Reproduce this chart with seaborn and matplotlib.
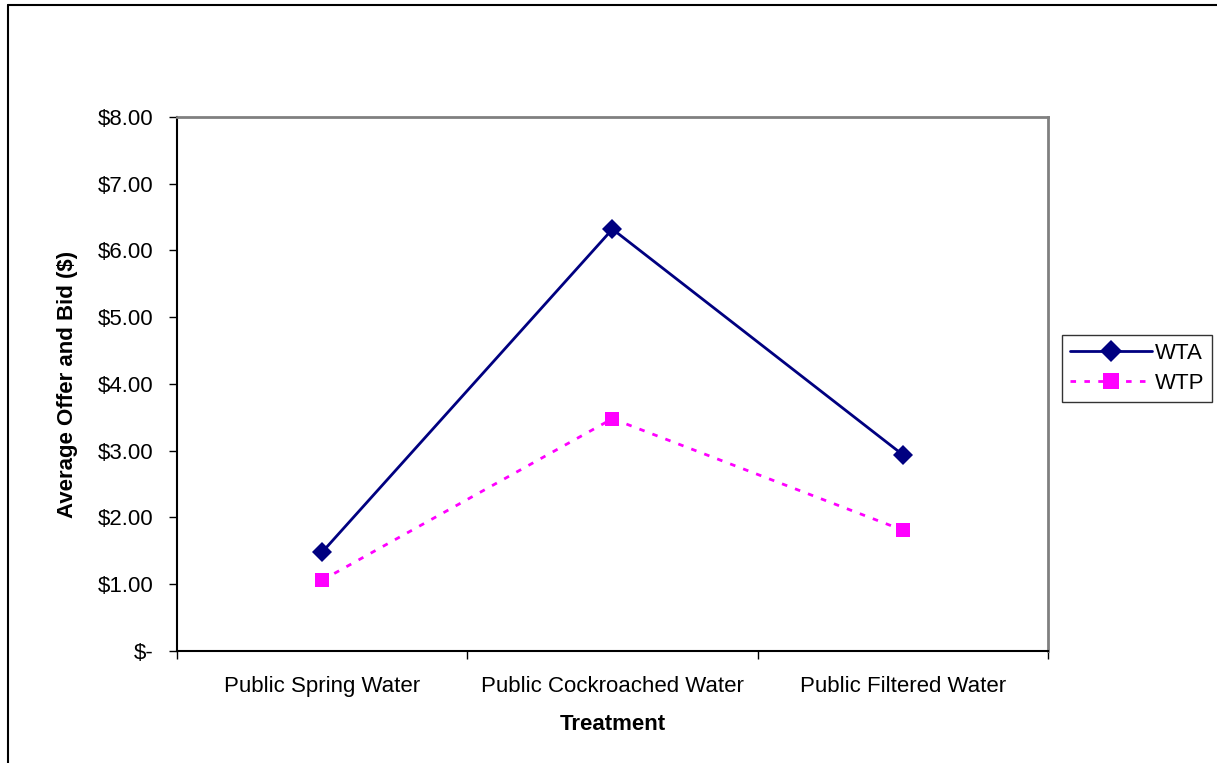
import pandas as pd
import seaborn as sns
import matplotlib.pyplot as plt
from matplotlib.lines import Line2D
from matplotlib.ticker import FixedLocator, FuncFormatter

treatments = ["Public Spring Water", "Public Cockroached Water", "Public Filtered Water"]
wta = [1.48, 6.32, 2.94]
wtp = [1.06, 3.48, 1.81]

df = pd.DataFrame({
    "Treatment": treatments * 2,
    "value": wta + wtp,
    "series": ["WTA"] * 3 + ["WTP"] * 3,
})

sns.set_style("white")
plt.rcParams['font.family'] = ['Liberation Sans', 'DejaVu Sans']
plt.rcParams['text.color'] = 'black'
plt.rcParams['xtick.color'] = 'black'
plt.rcParams['ytick.color'] = 'black'
plt.rcParams['axes.labelcolor'] = 'black'

fs = 16
fig = plt.figure(figsize=(12.17, 7.63), dpi=100)
ax = fig.add_axes([0.1454, 0.1468, 0.7157, 0.6999])

sns.lineplot(data=df, x="Treatment", y="value", hue="series", style="series",
             palette={"WTA": "#000080", "WTP": "#FF00FF"},
             dashes={"WTA": "", "WTP": (2, 3)},
             markers={"WTA": "D", "WTP": "s"},
             markersize=10, linewidth=2, markeredgewidth=0, ax=ax, legend=False)

ax.set_xlim(-0.5, 2.5)
ax.set_ylim(0, 8)
ax.xaxis.set_major_locator(FixedLocator([-0.5, 0.5, 1.5, 2.5]))
ax.xaxis.set_minor_locator(FixedLocator([0, 1, 2]))
ax.set_xticklabels([])
ax.set_xticklabels(treatments, minor=True)
ax.tick_params(axis="x", which="major", direction="out", length=6, width=1, bottom=True)
ax.tick_params(axis="x", which="minor", length=0, pad=18, labelsize=fs)
ax.set_yticks(range(0, 9))
ax.yaxis.set_major_formatter(FuncFormatter(lambda v, p: "$-" if v == 0 else f"${v:.2f}"))
ax.tick_params(axis="y", direction="out", length=6, width=1, left=True, pad=11, labelsize=fs)

for s in ["left", "bottom"]:
    ax.spines[s].set_color("black")
    ax.spines[s].set_linewidth(1.5)
for s in ["top", "right"]:
    ax.spines[s].set_color("#808080")
    ax.spines[s].set_linewidth(2)

ax.set_xlabel("Treatment", fontsize=fs, fontweight="bold", labelpad=12)
ax.set_ylabel("Average Offer and Bid ($)", fontsize=fs, fontweight="bold", labelpad=14)

handles = [
    Line2D([], [], color="#000080", marker="D", markersize=11, linewidth=2, markeredgewidth=0),
    Line2D([], [], color="#FF00FF", marker="s", markersize=11, linewidth=2, dashes=(2, 3), markeredgewidth=0),
]
leg = fig.legend(handles, ["WTA", "WTP"], loc="center left", bbox_to_anchor=(0.8725, 0.517),
                 fontsize=fs, frameon=True, fancybox=False, handlelength=3.7,
                 borderpad=0.35, handletextpad=0.15, labelspacing=0.4, borderaxespad=0)
leg.get_frame().set_edgecolor("black")
leg.get_frame().set_linewidth(1)

# outer chart border
fig.add_artist(Line2D([0.0066, 0.0066], [0, 0.9934], color="black", linewidth=1.5))
fig.add_artist(Line2D([0.0066, 1], [0.9934, 0.9934], color="black", linewidth=1.5))

fig.savefig("out.png", dpi=100)
